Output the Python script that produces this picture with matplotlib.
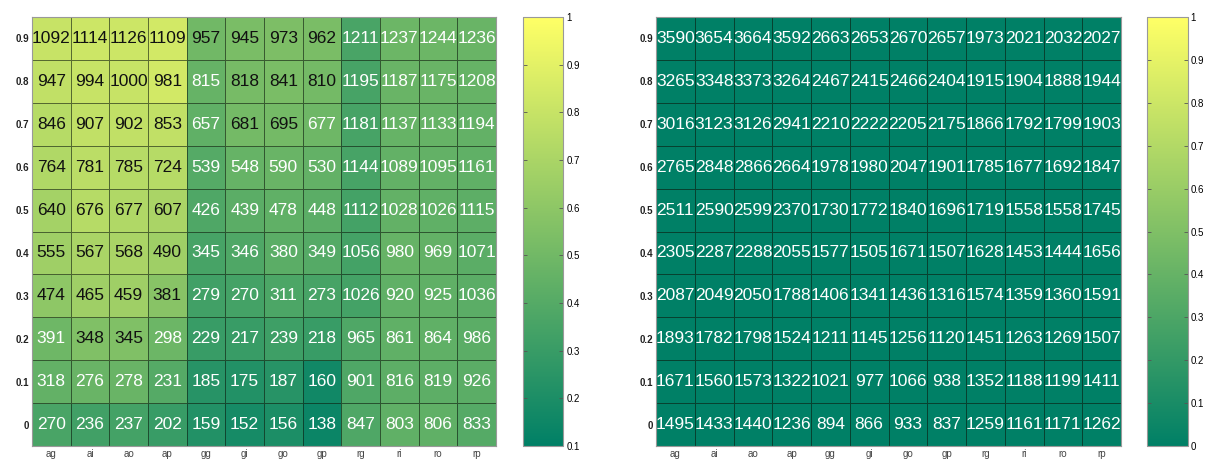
import numpy as np
import matplotlib
matplotlib.use("Agg")
import matplotlib.pyplot as plt

# Eixos: limiares (linhas, de baixo para cima) e combinacoes (colunas)
thresholds = ["0", "0.1", "0.2", "0.3", "0.4", "0.5", "0.6", "0.7", "0.8", "0.9"]
combos = ["ag", "ai", "ao", "ap", "gg", "gi", "go", "gp", "rg", "ri", "ro", "rp"]

# Mapa esquerdo: numeros mostrados nas celulas
left_counts = [
    [270, 236, 237, 202, 159, 152, 156, 138, 847, 803, 806, 833],
    [318, 276, 278, 231, 185, 175, 187, 160, 901, 816, 819, 926],
    [391, 348, 345, 298, 229, 217, 239, 218, 965, 861, 864, 986],
    [474, 465, 459, 381, 279, 270, 311, 273, 1026, 920, 925, 1036],
    [555, 567, 568, 490, 345, 346, 380, 349, 1056, 980, 969, 1071],
    [640, 676, 677, 607, 426, 439, 478, 448, 1112, 1028, 1026, 1115],
    [764, 781, 785, 724, 539, 548, 590, 530, 1144, 1089, 1095, 1161],
    [846, 907, 902, 853, 657, 681, 695, 677, 1181, 1137, 1133, 1194],
    [947, 994, 1000, 981, 815, 818, 841, 810, 1195, 1187, 1175, 1208],
    [1092, 1114, 1126, 1109, 957, 945, 973, 962, 1211, 1237, 1244, 1236],
]

# Mapa esquerdo: valor de cor (estimado pela escala 0.1 - 1)
left_colors = [
    [0.36, 0.33, 0.34, 0.30, 0.22, 0.18, 0.20, 0.14, 0.38, 0.44, 0.44, 0.40],
    [0.45, 0.47, 0.47, 0.40, 0.24, 0.22, 0.24, 0.16, 0.38, 0.43, 0.43, 0.42],
    [0.49, 0.55, 0.55, 0.48, 0.30, 0.30, 0.32, 0.30, 0.38, 0.44, 0.44, 0.42],
    [0.60, 0.66, 0.66, 0.58, 0.33, 0.34, 0.37, 0.35, 0.34, 0.44, 0.44, 0.42],
    [0.66, 0.70, 0.70, 0.66, 0.35, 0.38, 0.42, 0.40, 0.34, 0.46, 0.45, 0.42],
    [0.68, 0.74, 0.72, 0.70, 0.38, 0.42, 0.44, 0.42, 0.34, 0.45, 0.44, 0.43],
    [0.72, 0.76, 0.74, 0.74, 0.40, 0.46, 0.47, 0.45, 0.35, 0.45, 0.45, 0.44],
    [0.74, 0.78, 0.78, 0.78, 0.44, 0.51, 0.51, 0.49, 0.35, 0.46, 0.46, 0.45],
    [0.78, 0.80, 0.80, 0.84, 0.46, 0.52, 0.53, 0.51, 0.35, 0.47, 0.47, 0.46],
    [0.80, 0.82, 0.82, 0.84, 0.50, 0.53, 0.54, 0.53, 0.36, 0.48, 0.48, 0.47],
]

# Mapa direito: numeros mostrados nas celulas
right_counts = [
    [1495, 1433, 1440, 1236, 894, 866, 933, 837, 1259, 1161, 1171, 1262],
    [1671, 1560, 1573, 1322, 1021, 977, 1066, 938, 1352, 1188, 1199, 1411],
    [1893, 1782, 1798, 1524, 1211, 1145, 1256, 1120, 1451, 1263, 1269, 1507],
    [2087, 2049, 2050, 1788, 1406, 1341, 1436, 1316, 1574, 1359, 1360, 1591],
    [2305, 2287, 2288, 2055, 1577, 1505, 1671, 1507, 1628, 1453, 1444, 1656],
    [2511, 2590, 2599, 2370, 1730, 1772, 1840, 1696, 1719, 1558, 1558, 1745],
    [2765, 2848, 2866, 2664, 1978, 1980, 2047, 1901, 1785, 1677, 1692, 1847],
    [3016, 3123, 3126, 2941, 2210, 2222, 2205, 2175, 1866, 1792, 1799, 1903],
    [3265, 3348, 3373, 3264, 2467, 2415, 2466, 2404, 1915, 1904, 1888, 1944],
    [3590, 3654, 3664, 3592, 2663, 2653, 2670, 2657, 1973, 2021, 2032, 2027],
]

# Mapa direito: todas as celulas ficam no valor 0 da escala
right_colors = np.zeros((len(thresholds), len(combos)))

plt.rcParams['font.family'] = ['Liberation Sans', 'DejaVu Sans']


def draw_heatmap(fig, ax_rect, cb_rect, counts, colors, vmin, cb_ticks, dark_text_from=None):
    """Desenha um mapa de calor com numeros nas celulas e barra de cores."""
    ax = fig.add_axes(ax_rect)
    cax = fig.add_axes(cb_rect)
    colors = np.asarray(colors, dtype=float)
    n_rows, n_cols = colors.shape
    mesh = ax.pcolormesh(np.arange(n_cols + 1), np.arange(n_rows + 1), colors,
                         cmap='summer', vmin=vmin, vmax=1,
                         edgecolors=(0.05, 0.1, 0.05, 0.6), linewidth=0.5)
    for i in range(n_rows):
        for j in range(n_cols):
            dark = dark_text_from is not None and colors[i, j] >= dark_text_from
            ax.text(j + 0.5, i + 0.5, str(counts[i][j]), ha='center', va='center',
                    fontsize=12.5, color='#111111' if dark else 'white')
    ax.set_xlim(0, n_cols)
    ax.set_ylim(0, n_rows)
    ax.set_xticks(np.arange(n_cols) + 0.5)
    ax.set_xticklabels(combos, fontsize=7, color='#444444')
    ax.set_yticks(np.arange(n_rows) + 0.5)
    ax.set_yticklabels(thresholds, fontsize=7, color='#222222', fontweight='bold')
    ax.tick_params(length=0, pad=2)
    for spine in ax.spines.values():
        spine.set_color('#999999')
        spine.set_linewidth(0.8)

    cb = fig.colorbar(mesh, cax=cax)
    cb.set_ticks(cb_ticks)
    cb.set_ticklabels([f"{t:g}" for t in cb_ticks])
    cb.ax.tick_params(direction='in', left=True, right=True, length=3,
                      width=0.6, labelsize=7, color='#555555', pad=2)
    cb.outline.set_edgecolor('#999999')
    cb.outline.set_linewidth(0.8)
    return ax


fig = plt.figure(figsize=(12.11, 4.62), dpi=100)

draw_heatmap(fig, [0.0264, 0.0346, 0.3832, 0.9286], [0.4319, 0.0346, 0.0334, 0.9286],
             left_counts, left_colors, 0.1, np.round(np.arange(0.1, 1.01, 0.1), 1),
             dark_text_from=0.5)
draw_heatmap(fig, [0.5417, 0.0346, 0.3840, 0.9286], [0.9472, 0.0346, 0.0334, 0.9286],
             right_counts, right_colors, 0.0, np.round(np.arange(0.0, 1.01, 0.1), 1))

plt.savefig('out.png', dpi=100)
plt.close()
